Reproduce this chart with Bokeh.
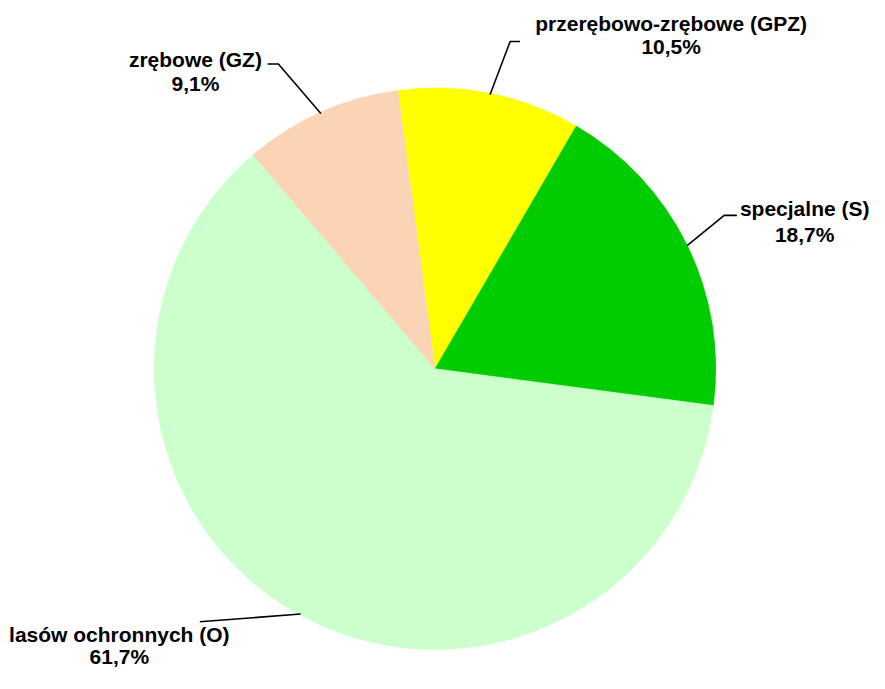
import numpy as np
from bokeh.plotting import figure
from bokeh.models import Range1d
from bokeh.core.properties import value
from bokeh.embed import file_html
from bokeh.resources import INLINE

# ---- data ----
categories = ["przerębowo-zrębowe (GPZ)", "specjalne (S)", "lasów ochronnych (O)", "zrębowe (GZ)"]
percents = [10.5, 18.7, 61.7, 9.1]
pct_labels = ["10,5%", "18,7%", "61,7%", "9,1%"]
colors = ["#FFFF00", "#00CC00", "#CCFFCC", "#FAD4B4"]

# ---- layout (coordinates in a 885x689 design space, y measured from top) ----
W, H = 869, 673
DW, DH = 885, 689


def px(x):
    return x


def py(y):
    return DH - y


cx, cy, R = px(442.5), py(377), 286
start_offset_deg = 7.6  # first slice begins left of 12 o'clock

# label anchors: x center, line1 y, line2 y
label_pos = [(683, 24, 47), (819, 213, 240), (121, 649, 672), (198.5, 60, 85)]
# leader elbows after the pie-edge point
leader_pts = [
    [(519, 42), (529, 42)],
    [(737, 220), (750, 220)],
    [(203, 636)],
    [(283, 65), (272, 65)],
]

fracs = np.array(percents) / sum(percents)
cum = np.concatenate([[0.0], np.cumsum(fracs)])
angles = np.deg2rad(90 + start_offset_deg) - cum * 2 * np.pi
starts, ends = angles[:-1], angles[1:]
mids = (starts + ends) / 2

p = figure(width=W, height=H, output_backend="svg", toolbar_location=None,
           x_range=Range1d(0, DW), y_range=Range1d(0, DH), min_border=0)
p.axis.visible = False
p.grid.visible = False
p.outline_line_color = None
p.background_fill_color = "white"
p.border_fill_color = "white"

p.wedge(x=[cx] * len(percents), y=[cy] * len(percents), radius=R,
        start_angle=list(starts), end_angle=list(ends), direction="clock",
        fill_color=colors, line_color=colors, line_width=0.5)

xs, ys = [], []
for m, pts in zip(mids, leader_pts):
    lx = [cx + R * np.cos(m)] + [px(a) for a, b in pts]
    ly = [cy + R * np.sin(m)] + [py(b) for a, b in pts]
    xs.append(lx)
    ys.append(ly)
p.multi_line(xs=xs, ys=ys, line_color="black", line_width=1.6)

tx = [px(a) for a, b, c in label_pos]
p.text(x=tx, y=[py(b) for a, b, c in label_pos], text=categories,
       text_font=value("Liberation Sans"), text_font_style="bold", text_font_size="21px",
       text_align="center", text_baseline="middle", text_color="black")
p.text(x=tx, y=[py(c) for a, b, c in label_pos], text=pct_labels,
       text_font=value("Liberation Sans"), text_font_style="bold", text_font_size="21px",
       text_align="center", text_baseline="middle", text_color="black")

open("out.html", "w").write(file_html(p, INLINE))
